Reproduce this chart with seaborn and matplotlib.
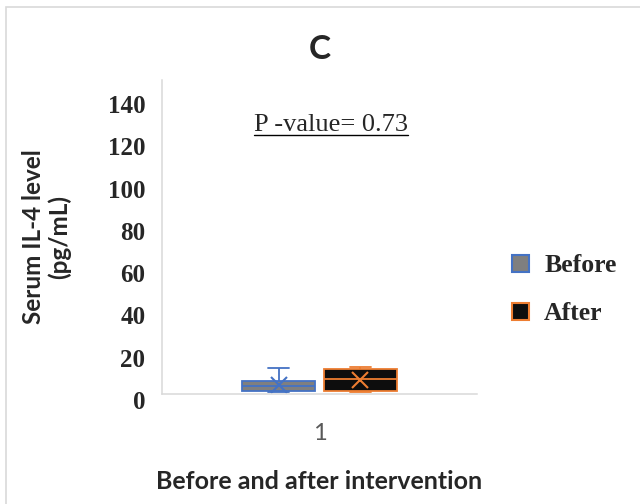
import numpy as np
import pandas as pd
import matplotlib
matplotlib.use("Agg")
import matplotlib.pyplot as plt
import matplotlib.transforms as mtransforms
from matplotlib.patches import Patch, Rectangle
from matplotlib.lines import Line2D
import seaborn as sns

# -----------------------------------------------------------------------------
# Data
# -----------------------------------------------------------------------------
GROUP = "1"
BEFORE_VALUES = [0.6, 0.9, 1.3, 2.0, 3.7, 4.0, 5.8, 6.0, 11.9]
AFTER_VALUES  = [0.6, 0.9, 1.3, 4.0, 6.7, 8.1, 11.5, 11.8, 12.7]
SERIES        = ["Before", "After"]
Y_TICKS       = [0, 20, 40, 60, 80, 100, 120, 140]
P_TEXT        = "P -value= 0.73"

# -----------------------------------------------------------------------------
# Style
# -----------------------------------------------------------------------------
FILL_COLORS = ["#7f7f7f", "#0d0d0d"]
EDGE_COLORS = ["#4472c4", "#ed7d31"]
AXIS_COLOR  = "#d9d9d9"
SANS        = ["Lato", "DejaVu Sans"]
SERIF       = ["Liberation Serif", "DejaVu Serif"]

sns.set_style("white")
plt.rcParams["font.family"] = SANS

df = pd.DataFrame({
    "group": [GROUP] * (len(BEFORE_VALUES) + len(AFTER_VALUES)),
    "time":  [SERIES[0]] * len(BEFORE_VALUES) + [SERIES[1]] * len(AFTER_VALUES),
    "value": BEFORE_VALUES + AFTER_VALUES,
})

fig = plt.figure(figsize=(6.4, 5.04), dpi=100)
ax = fig.add_axes([0.2531, 0.2192, 0.4922, 0.622])

sns.boxplot(
    data=df, x="group", y="value", hue="time", hue_order=SERIES,
    palette=FILL_COLORS, width=0.52, gap=0.1, whis=1.5,
    showmeans=True, showfliers=False, linewidth=1.3,
    meanprops={"marker": "x", "markersize": 12, "markeredgewidth": 1.5},
    legend=False, ax=ax,
)

# recolour box outlines / whiskers / medians / means per series
for cont, edge in zip(ax.containers, EDGE_COLORS):
    for box in cont.boxes:
        box.set_edgecolor(edge)
    for ln in list(cont.whiskers) + list(cont.caps) + list(cont.medians):
        ln.set_color(edge)
    for ln in cont.means:
        ln.set_markeredgecolor(edge)
        ln.set_markerfacecolor(edge)
    for cap in cont.caps:
        xd = cap.get_xdata()
        mid = (xd[0] + xd[1]) / 2
        half = (xd[1] - xd[0]) / 2 * 0.55
        cap.set_xdata([mid - half, mid + half])

# axes
ax.set_xlim(-0.5, 0.5)
ax.set_ylim(0, 148.5)
ax.set_yticks(Y_TICKS)
ax.set_yticklabels([str(v) for v in Y_TICKS], fontfamily=SERIF,
                   fontweight="bold", fontsize=18)
ax.tick_params(axis="y", length=0, pad=12)
ax.tick_params(axis="x", length=0, pad=21, labelsize=17, labelcolor="#595959")

offset = mtransforms.ScaledTranslation(0, -4.5 / 72, fig.dpi_scale_trans)
for lab in ax.get_yticklabels():
    lab.set_transform(lab.get_transform() + offset)

for side in ["top", "right"]:
    ax.spines[side].set_visible(False)
for side in ["left", "bottom"]:
    ax.spines[side].set_color(AXIS_COLOR)
    ax.spines[side].set_linewidth(1.1)

ax.set_title("C", fontsize=24, fontweight="bold", pad=15)
ax.set_xlabel("Before and after intervention", fontsize=18,
              fontweight="bold", labelpad=19)
ax.set_ylabel("Serum IL-4 level\n(pg/mL)", fontsize=17.5,
              fontweight="bold", linespacing=1.1)
ax.yaxis.set_label_coords(-0.29, 0.5)

# p-value annotation (underlined)
ptxt = ax.text(0.537, 0.856, P_TEXT, transform=ax.transAxes, ha="center",
               va="center", fontsize=19, fontfamily=SERIF)

# legend
handles = [Patch(facecolor=f, edgecolor=e, linewidth=1.5)
           for f, e in zip(FILL_COLORS, EDGE_COLORS)]
fig.legend(handles, SERIES, loc="center left", bbox_to_anchor=(0.80, 0.425),
           frameon=False, handlelength=0.65, handleheight=0.65,
           handletextpad=0.6, labelspacing=0.98, borderpad=0,
           borderaxespad=0, prop={"family": SERIF, "weight": "bold", "size": 18.5})

# outer chart frame
fig.add_artist(Rectangle((0.009, -0.01), 1.0, 0.996, transform=fig.transFigure,
                         fill=False, edgecolor=AXIS_COLOR, linewidth=1.2))

fig.canvas.draw()
bb = ptxt.get_window_extent().transformed(fig.transFigure.inverted())
fig.add_artist(Line2D([bb.x0, bb.x1], [bb.y0 + 0.002, bb.y0 + 0.002],
                      transform=fig.transFigure, color="black", linewidth=1.0))

plt.savefig("out.png", dpi=100)
plt.close()
